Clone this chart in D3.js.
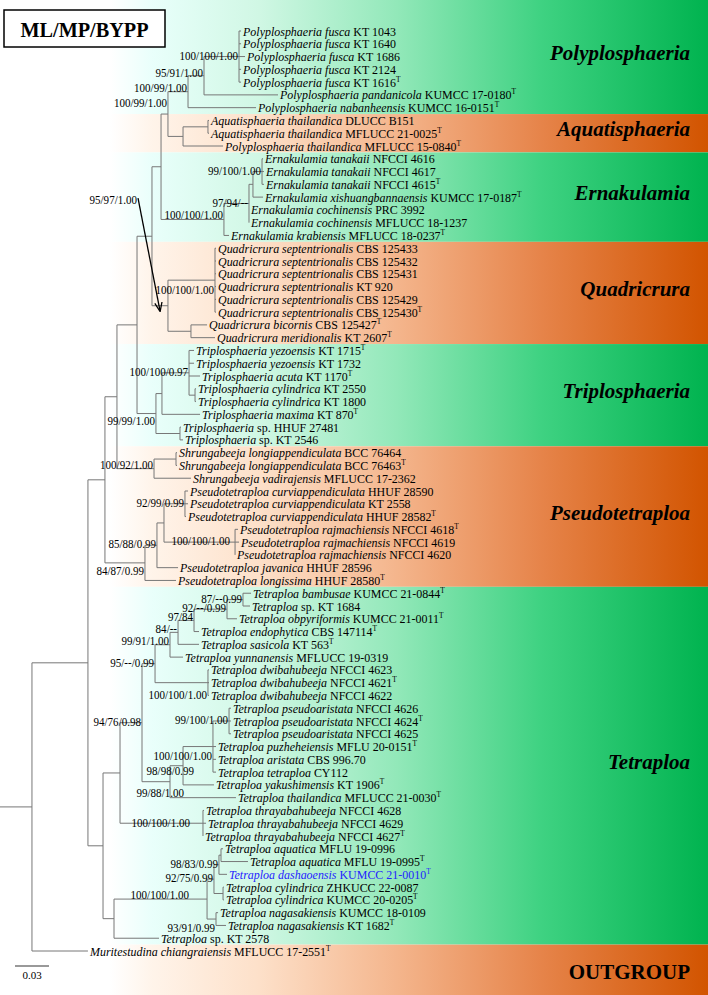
<!DOCTYPE html>
<html><head><meta charset="utf-8">
<script src="https://cdn.jsdelivr.net/npm/d3@7"></script>
<style>html,body{margin:0;padding:0;background:#fff;} svg{display:block;}</style>
</head><body><div id="chart"></div>
<script>
// ---------- DATA ----------
// internal nodes: id, parent, cumulative depth (substitutions/site), support
const nodeIds = ["root","A","B","C","UP","PAEQ","PAE","PA","POLY","PP","FUS","AQ","AT","ERN","E97","ETX","ETAN","Q","QSEP","QBM","TRIP","TM","T100","TCYL","TSP","SHR","SL","PS","PJ","PC","CURV","RAJ","TT","T94","T142","T95","T99","T84","T97","T92","T87","DWI","T9988","T9898","T100T","PSA","THR","TB","T100B","TQ92","TQ98","TAQ","TCY","NAG"];
const nodeParents = [null,"root","A","B","C","UP","PAEQ","PAE","PA","POLY","PP","PA","AQ","PAE","ERN","E97","ETX","PAEQ","Q","Q","UP","TRIP","TM","T100","TRIP","C","SHR","B","PS","PJ","PC","PC","A","TT","T94","T142","T95","T99","T84","T97","T92","T95","T142","T9988","T9898","T100T","T94","TT","TB","T100B","TQ92","TQ98","TQ92","T100B"];
const nodeDepths = [0.0282,0.0776,0.0926,0.1032,0.1209,0.1341,0.1421,0.1482,0.1659,0.1800,0.2109,0.1615,0.1835,0.1976,0.2197,0.2232,0.2312,0.1482,0.1897,0.1685,0.1376,0.1429,0.1668,0.1721,0.1588,0.1359,0.1553,0.1279,0.1385,0.1447,0.1632,0.2074,0.0909,0.1059,0.1253,0.1368,0.1500,0.1571,0.1712,0.2003,0.2144,0.1835,0.1500,0.1615,0.1879,0.2021,0.1791,0.1006,0.1827,0.1888,0.1932,0.1950,0.1968,0.1906];
const nodeSupports = ["","","","","","95/97/1.00","","100/99/1.00","100/99/1.00","95/91/1.00","100/100/1.00","","","100/100/1.00","97/94/--","","99/100/1.00","","100/100/1.00","","99/99/1.00","","100/100/0.97","","","100/92/1.00","","84/87/0.99","85/88/0.99","","92/99/0.99","100/100/1.00","","","94/76/0.98","95/--/0.99","99/91/1.00","84/--","97/84","92/--/0.99","87/--0.99","100/100/1.00","99/88/1.00","98/98/0.99","100/100/1.00","99/100/1.00","100/100/1.00","","100/100/1.00","92/75/0.99","98/83/0.99","","","93/91/0.99"];

// leaves (in drawing order, top to bottom)
const leafTaxa = ["Polyplosphaeria fusca","Polyplosphaeria fusca","Polyplosphaeria fusca","Polyplosphaeria fusca","Polyplosphaeria fusca","Polyplosphaeria pandanicola","Polyplosphaeria nabanheensis","Aquatisphaeria thailandica","Aquatisphaeria thailandica","Polyplosphaeria thailandica","Ernakulamia tanakaii","Ernakulamia tanakaii","Ernakulamia tanakaii","Ernakulamia xishuangbannaensis","Ernakulamia cochinensis","Ernakulamia cochinensis","Ernakulamia krabiensis","Quadricrura septentrionalis","Quadricrura septentrionalis","Quadricrura septentrionalis","Quadricrura septentrionalis","Quadricrura septentrionalis","Quadricrura septentrionalis","Quadricrura bicornis","Quadricrura meridionalis","Triplosphaeria yezoensis","Triplosphaeria yezoensis","Triplosphaeria acuta","Triplosphaeria cylindrica","Triplosphaeria cylindrica","Triplosphaeria maxima","Triplosphaeria","Triplosphaeria","Shrungabeeja longiappendiculata","Shrungabeeja longiappendiculata","Shrungabeeja vadirajensis","Pseudotetraploa curviappendiculata","Pseudotetraploa curviappendiculata","Pseudotetraploa curviappendiculata","Pseudotetraploa rajmachiensis","Pseudotetraploa rajmachiensis","Pseudotetraploa rajmachiensis","Pseudotetraploa javanica","Pseudotetraploa longissima","Tetraploa bambusae","Tetraploa","Tetraploa obpyriformis","Tetraploa endophytica","Tetraploa sasicola","Tetraploa yunnanensis","Tetraploa dwibahubeeja","Tetraploa dwibahubeeja","Tetraploa dwibahubeeja","Tetraploa pseudoaristata","Tetraploa pseudoaristata","Tetraploa pseudoaristata","Tetraploa puzheheiensis","Tetraploa aristata","Tetraploa tetraploa","Tetraploa yakushimensis","Tetraploa thailandica","Tetraploa thrayabahubeeja","Tetraploa thrayabahubeeja","Tetraploa thrayabahubeeja","Tetraploa aquatica","Tetraploa aquatica","Tetraploa dashaoensis","Tetraploa cylindrica","Tetraploa cylindrica","Tetraploa nagasakiensis","Tetraploa nagasakiensis","Tetraploa","Muritestudina chiangraiensis"];
const leafStrains = ["KT 1043","KT 1640","KT 1686","KT 2124","KT 1616","KUMCC 17-0180","KUMCC 16-0151","DLUCC B151","MFLUCC 21-0025","MFLUCC 15-0840","NFCCI 4616","NFCCI 4617","NFCCI 4615","KUMCC 17-0187","PRC 3992","MFLUCC 18-1237","MFLUCC 18-0237","CBS 125433","CBS 125432","CBS 125431","KT 920","CBS 125429","CBS 125430","CBS 125427","KT 2607","KT 1715","KT 1732","KT 1170","KT 2550","KT 1800","KT 870","sp. HHUF 27481","sp. KT 2546","BCC 76464","BCC 76463","MFLUCC 17-2362","HHUF 28590","KT 2558","HHUF 28582","NFCCI 4618","NFCCI 4619","NFCCI 4620","HHUF 28596","HHUF 28580","KUMCC 21-0844","sp. KT 1684","KUMCC 21-0011","CBS 147114","KT 563","MFLUCC 19-0319","NFCCI 4623","NFCCI 4621","NFCCI 4622","NFCCI 4626","NFCCI 4624","NFCCI 4625","MFLU 20-0151","CBS 996.70","CY112","KT 1906","MFLUCC 21-0030","NFCCI 4628","NFCCI 4629","NFCCI 4627","MFLU 19-0996","MFLU 19-0995","KUMCC 21-0010","ZHKUCC 22-0087","KUMCC 20-0205","KUMCC 18-0109","KT 1682","sp. KT 2578","MFLUCC 17-2551"];
const leafTypeFlags = [0,0,0,0,1,1,1,0,1,1,0,0,1,1,0,0,1,0,0,0,0,0,1,1,1,1,0,1,0,0,1,0,0,0,1,0,0,0,1,1,0,0,0,1,1,0,1,1,1,0,0,1,0,0,1,0,1,0,0,1,1,0,0,1,0,1,1,0,1,0,1,0,1];
const leafParents = ["FUS","FUS","FUS","FUS","FUS","PP","POLY","AT","AT","AQ","ETAN","ETAN","ETAN","ETX","E97","E97","ERN","QSEP","QSEP","QSEP","QSEP","QSEP","QSEP","QBM","QBM","T100","T100","T100","TCYL","TCYL","TM","TSP","TSP","SL","SL","SHR","CURV","CURV","CURV","RAJ","RAJ","RAJ","PJ","PS","T87","T87","T92","T97","T84","T99","DWI","DWI","DWI","PSA","PSA","PSA","T100T","T100T","T100T","T9898","T9988","THR","THR","THR","TAQ","TAQ","TQ98","TCY","TCY","NAG","NAG","TB","root"];
const leafDepths = [0.2127,0.2127,0.2162,0.2127,0.2127,0.2453,0.2259,0.1844,0.1844,0.1968,0.2321,0.2329,0.2329,0.2321,0.2197,0.2197,0.2021,0.1906,0.1906,0.1906,0.1906,0.1906,0.1906,0.1827,0.1897,0.1712,0.1712,0.1765,0.1729,0.1729,0.1765,0.1597,0.1615,0.1562,0.1562,0.1685,0.1659,0.1659,0.1641,0.2100,0.2109,0.2074,0.1571,0.1553,0.2215,0.2206,0.2091,0.1756,0.1756,0.1615,0.1844,0.1844,0.1844,0.2038,0.2038,0.2038,0.1906,0.1906,0.1906,0.1888,0.2082,0.1800,0.1818,0.1791,0.1968,0.2188,0.2003,0.1976,0.1976,0.1924,0.1994,0.1403,0.0776];
const highlightLeaves = [66];

// clade bands
const cladeNames = ["Polyplosphaeria","Aquatisphaeria","Ernakulamia","Quadricrura","Triplosphaeria","Pseudotetraploa","Tetraploa","OUTGROUP"];
const cladeFirstLeaf = [0,7,10,17,25,33,44,72];
const cladeLastLeaf = [6,9,16,24,32,43,71,72];
const cladeTones = ["green","orange","green","orange","green","orange","green","orange"];
const scaleBarValue = 0.03;
const legendText = "ML/MP/BYPP";

// ---------- LAYOUT ----------
const W = 708, H = 995;
const FONT = "'Liberation Serif','Times New Roman',Times,serif";
const supportOffsets = {POLY:[0,-3],PP:[0,-2],PA:[0,-10],ERN:[0,-3],QSEP:[0,11],TRIP:[0,8],SHR:[0,-3],RAJ:[-4,0],PS:[0,9],T97:[0,-2],T84:[0,-2],T99:[0,-3],DWI:[0,13],T100T:[0,10],T9898:[12,6],T9988:[15,12],THR:[-12,1],T100B:[-17,-3],NAG:[0,10]};
const SX = 0.92; // horizontal condensing of the serif labels

const x = d3.scaleLinear().domain([0, 0.6]).range([0, 680]);
const y = d3.scaleLinear().domain([0, leafTaxa.length - 1]).range([31, 951]);

const svg = d3.select("#chart").append("svg").attr("width", W).attr("height", H)
  .style("font-family", FONT);
const defs = svg.append("defs");
const gradStops = {
  green: [[0,"#ffffff"],[0.07,"#e9fffb"],[0.25,"#d0f7e4"],[0.48,"#92e8b9"],[0.72,"#3fd282"],[1,"#00b34f"]],
  orange: [[0,"#ffffff"],[0.07,"#fff4ea"],[0.25,"#fde0c9"],[0.48,"#f4b58c"],[0.72,"#e6844a"],[1,"#d25400"]]
};
Object.entries(gradStops).forEach(([k, stops]) => {
  const g = defs.append("linearGradient").attr("id", "grad-" + k)
    .attr("gradientUnits", "userSpaceOnUse").attr("x1", 110).attr("x2", W).attr("y1", 0).attr("y2", 0);
  stops.forEach(s => g.append("stop").attr("offset", s[0]).attr("stop-color", s[1]));
});
const mk = defs.append("marker").attr("id","arrow").attr("viewBox","0 0 10 10").attr("refX",9).attr("refY",5)
  .attr("markerWidth",7).attr("markerHeight",7).attr("orient","auto-start-reverse");
mk.append("path").attr("d","M0,1 L10,5 L0,9").attr("fill","none").attr("stroke","#000").attr("stroke-width",1.4);

// bands
const bandEdges = cladeNames.map((c, i) => {
  const top = i === 0 ? 0 : (y(cladeFirstLeaf[i]) + y(cladeFirstLeaf[i] - 1)) / 2;
  const bot = i === cladeNames.length - 1 ? H : (y(cladeLastLeaf[i]) + y(cladeLastLeaf[i] + 1)) / 2;
  return {name: c, top, bot, tone: cladeTones[i]};
});
svg.append("g").selectAll("rect").data(bandEdges).join("rect")
  .attr("x", 110).attr("width", W - 110).attr("y", d => d.top).attr("height", d => d.bot - d.top)
  .attr("fill", d => "url(#grad-" + d.tone + ")");
svg.append("g").selectAll("text").data(bandEdges).join("text")
  .attr("x", 690).attr("y", d => (d.top + d.bot) / 2 + (d.name === "OUTGROUP" ? 9 : 3))
  .attr("text-anchor", "end").attr("font-size", 21).attr("font-weight", "bold")
  .attr("font-style", d => d.name === "OUTGROUP" ? "normal" : "italic")
  .attr("fill", "#000").text(d => d.name);

// hierarchy
const rows = nodeIds.map((id, i) => ({id, parent: nodeParents[i], depth: nodeDepths[i], support: nodeSupports[i]}))
  .concat(leafTaxa.map((t, i) => ({id: "L" + i, parent: leafParents[i], depth: leafDepths[i], leaf: i})));
const root = d3.stratify().id(d => d.id).parentId(d => d.parent)(rows);
root.eachAfter(n => {
  n.px = x(n.data.depth);
  if (n.data.leaf !== undefined) n.py = y(n.data.leaf);
  else {
    const ys = n.children.map(c => c.py);
    n.py = (d3.min(ys) + d3.max(ys)) / 2;
  }
});
const byId = {};
root.each(n => byId[n.id] = n);

const tree = svg.append("g").attr("stroke", "#777").attr("stroke-width", 1).attr("fill", "none");
// root stem
tree.append("line").attr("x1", x(0)).attr("x2", root.px).attr("y1", root.py).attr("y2", root.py);
root.descendants().forEach(n => {
  if (n.parent) tree.append("line").attr("x1", n.parent.px).attr("x2", n.px).attr("y1", n.py).attr("y2", n.py);
  if (n.children) {
    const ys = n.children.map(c => c.py);
    tree.append("line").attr("x1", n.px).attr("x2", n.px).attr("y1", d3.min(ys)).attr("y2", d3.max(ys));
  }
});

// leaf labels
const lab = svg.append("g").attr("font-size", 13);
root.leaves().forEach(n => {
  const i = n.data.leaf;
  const t = lab.append("text").attr("x", 0).attr("y", 0)
    .attr("transform", `translate(${n.px + 2},${n.py + 4.5}) scale(${SX},1)`)
    .attr("fill", highlightLeaves.includes(i) ? "#2323ff" : "#000");
  t.append("tspan").attr("font-style", "italic").text(leafTaxa[i]);
  t.append("tspan").text(" " + leafStrains[i]);
  if (leafTypeFlags[i]) t.append("tspan").attr("font-size", 8).attr("dy", -5).text("T");
});

// support labels
const sup = svg.append("g").attr("font-size", 12).attr("text-anchor", "end").attr("fill", "#000");
function supText(px, py, s) {
  sup.append("text").attr("x", 0).attr("y", 0)
    .attr("transform", `translate(${px},${py}) scale(${SX},1)`).text(s);
}
root.descendants().forEach(n => {
  const s = n.data.support;
  if (!s || n.id === "PAEQ") return;
  const off = supportOffsets[n.id] || [0, 0];
  supText(n.px - 1 + off[0], n.py + 3 + off[1], s);
});
// arrowed support
const nUP = byId["UP"], nPAEQ = byId["PAEQ"], nQ = byId["Q"];
supText(nUP.px, nPAEQ.py - 32, nPAEQ.data.support);
svg.append("line").attr("x1", nUP.px + 1).attr("y1", nPAEQ.py - 38)
  .attr("x2", nPAEQ.px + 8).attr("y2", nQ.py + 5)
  .attr("stroke", "#000").attr("stroke-width", 1.3).attr("marker-end", "url(#arrow)");

// scale bar
const sbY = 966;
svg.append("line").attr("x1", 15).attr("x2", 15 + x(scaleBarValue) - x(0)).attr("y1", sbY).attr("y2", sbY)
  .attr("stroke", "#777").attr("stroke-width", 1.5);
svg.append("text").attr("x", 15 + (x(scaleBarValue) - x(0)) / 2).attr("y", sbY + 13)
  .attr("text-anchor", "middle").attr("font-size", 11).text(String(scaleBarValue));

// legend box
svg.append("rect").attr("x", 4).attr("y", 10).attr("width", 161).attr("height", 37)
  .attr("fill", "#fff").attr("stroke", "#000").attr("stroke-width", 1.5);
svg.append("text").attr("x", 0).attr("y", 0).attr("text-anchor", "middle")
  .attr("transform", `translate(84.5,36.5) scale(${SX},1)`)
  .attr("font-size", 22).attr("font-weight", "bold").text(legendText);
</script></body></html>
